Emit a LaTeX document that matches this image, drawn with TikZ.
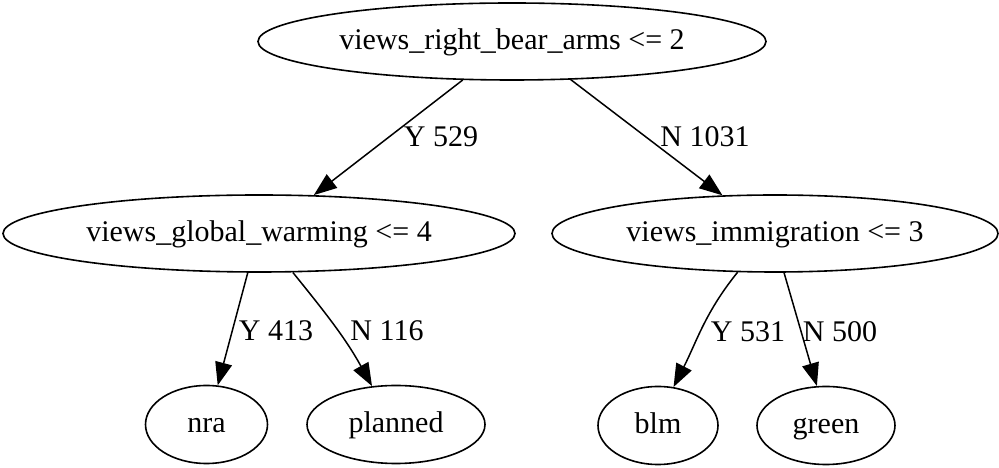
\documentclass[tikz,border=0pt]{standalone}
\usepackage{fontspec}
\setmainfont{Liberation Serif}
\usetikzlibrary{shapes.geometric,arrows.meta}

\tikzset{
  tree/.style={ellipse, draw, line width=1.6pt, inner sep=0pt,
    font=\fontsize{30}{36}\selectfont, text height=23pt, text depth=6pt},
  edge/.style={line width=1.5pt, -{Triangle[length=23pt,width=17pt]}},
  lbl/.style={font=\fontsize{30}{36}\selectfont, inner sep=0pt}
}

\begin{document}
\begin{tikzpicture}[x=1pt,y=1pt]
  \useasboundingbox (0,0) rectangle (999,468);

  % decision nodes
  \node[tree, minimum width=508pt, minimum height=77pt] (root) at (512,426.5) {views\_right\_bear\_arms <= 2};
  \node[tree, minimum width=512pt, minimum height=77pt] (gw) at (259,234.5) {views\_global\_warming <= 4};
  \node[tree, minimum width=446pt, minimum height=77pt] (imm) at (775,234.5) {views\_immigration <= 3};

  % leaves
  \node[tree, minimum width=122pt, minimum height=78pt] (nra) at (206.5,43.5) {nra};
  \node[tree, minimum width=178pt, minimum height=78pt] (planned) at (396,43.5) {planned};
  \node[tree, minimum width=120pt, minimum height=78pt] (blm) at (658,42.5) {blm};
  \node[tree, minimum width=138pt, minimum height=78pt] (green) at (826,42.5) {green};

  % branches
  \draw[edge] (root.218) -- (gw.35.4);
  \draw[edge] (root.327) -- (imm.144.3);
  \draw[edge] (gw.254) -- (nra.74.7);
  \draw[edge] (gw.311.7) to[out=-51,in=119] (planned.122.6);
  \draw[edge] (imm.226.5) to[out=-129,in=63] (blm.68.4);
  \draw[edge] (imm.283.2) -- (green.103);

  % branch labels
  \node[lbl] (l1) at (441,331) {Y 529};
  \node[lbl] (l2) at (705,331) {N 1031};
  \node[lbl] (l3) at (276,137) {Y 413};
  \node[lbl] (l4) at (387,137) {N 116};
  \node[lbl] (l5) at (748,136) {Y 531};
  \node[lbl] (l6) at (840,136) {N 500};
\end{tikzpicture}
\end{document}
